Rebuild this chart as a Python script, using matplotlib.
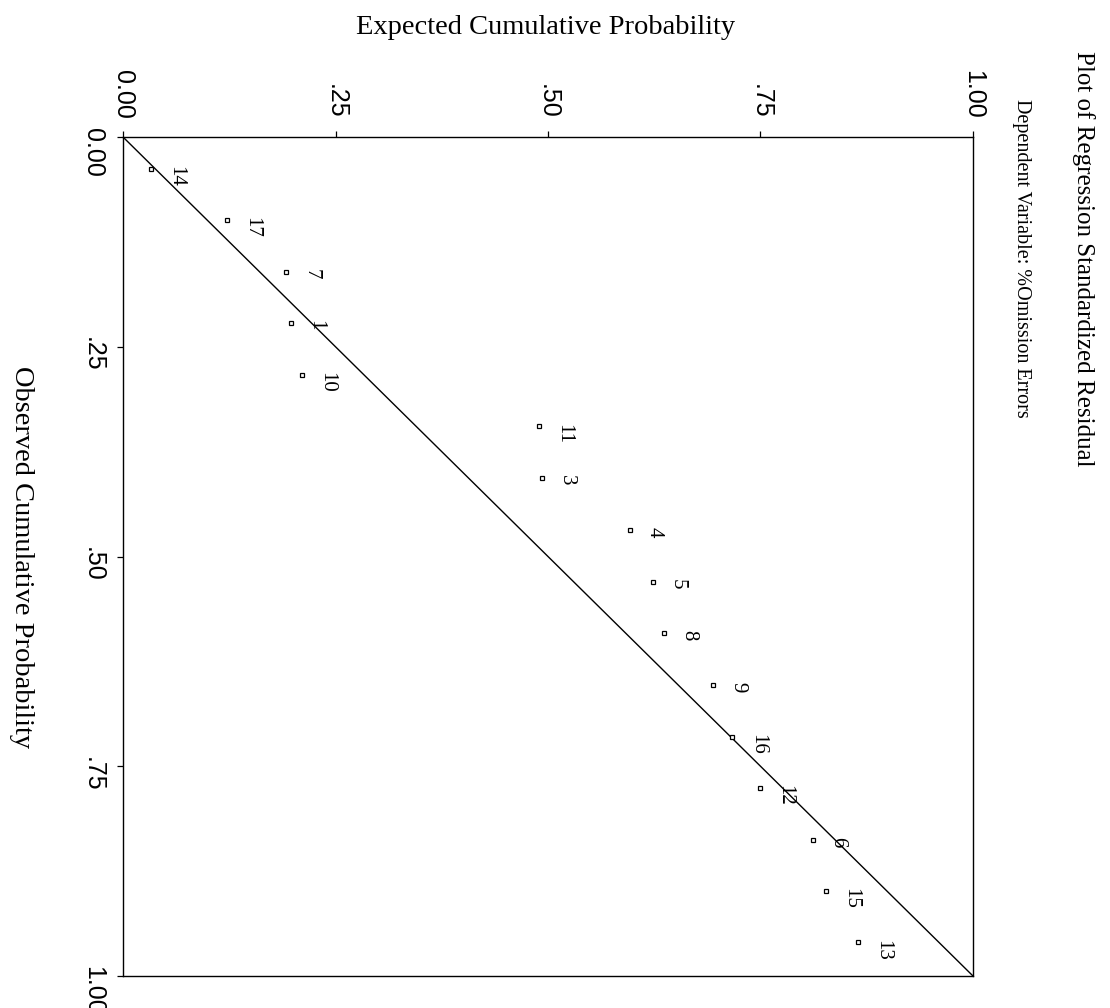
import matplotlib
matplotlib.use('Agg')
import matplotlib.pyplot as plt

case_ids = ['14', '17', '7', '1', '10', '11', '3', '4', '5', '8', '9', '16', '12', '6', '15', '13']
observed = [0.038, 0.099, 0.161, 0.222, 0.284, 0.345, 0.406, 0.468,
            0.530, 0.591, 0.653, 0.715, 0.776, 0.838, 0.899, 0.960]
expected = [0.033, 0.122, 0.192, 0.198, 0.211, 0.489, 0.493, 0.596,
            0.623, 0.637, 0.694, 0.717, 0.749, 0.812, 0.827, 0.865]
tick_vals = [0.0, 0.25, 0.5, 0.75, 1.0]
tick_labels = ['0.00', '.25', '.50', '.75', '1.00']

serif = 'Liberation Serif'
sans = 'Liberation Sans'

fig = plt.figure(figsize=(11.1, 10.08), dpi=100)
ax = fig.add_axes([123/1110., 1-976/1008., 850/1110., 839/1008.])

# page is turned a quarter: expected runs right, observed runs down
ax.plot([0, 1], [0, 1], color='k', lw=1.0)
ax.plot(expected, observed, ls='none', marker='s', ms=3.5, mfc='white', mec='k', mew=0.9)
for e, o, lab in zip(expected, observed, case_ids):
  ax.annotate(lab, (e, o), xytext=(11, 2), textcoords='offset points',
              rotation=-90, ha='left', va='top', fontsize=15, family=serif)

ax.set_xlim(0, 1); ax.set_ylim(1, 0)
ax.set_xticks(tick_vals); ax.set_xticklabels(tick_labels)
ax.set_yticks(tick_vals); ax.set_yticklabels(tick_labels)
ax.xaxis.tick_top()
ax.tick_params(axis='both', direction='out', length=4, width=0.9, pad=9, labelsize=18)
ax.tick_params(axis='x', labelrotation=-90)
ax.tick_params(axis='y', labelrotation=-90)
for lbl in ax.get_xticklabels() + ax.get_yticklabels():
  lbl.set_family(sans)
for s in ax.spines.values():
  s.set_linewidth(1.0)

fig.text(546/1110., 1-27/1008., 'Expected Cumulative Probability', ha='center', va='center',
         fontsize=20.5, family=serif)
fig.text(21/1110., 1-557/1008., 'Observed Cumulative Probability', ha='center', va='center',
         rotation=-90, fontsize=20.5, family=serif)
fig.text(1083/1110., 1-259/1008., 'Plot of Regression Standardized Residual', ha='center', va='center',
         rotation=-90, fontsize=18, family=serif)
fig.text(1022/1110., 1-258/1008., 'Dependent Variable: %Omission Errors', ha='center', va='center',
         rotation=-90, fontsize=14.5, family=serif)

fig.savefig('out.png', dpi=100)
